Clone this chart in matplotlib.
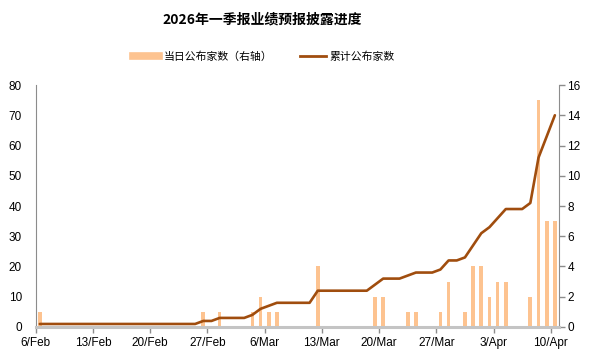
import numpy as np
import pandas as pd
import matplotlib
matplotlib.use("Agg")
import matplotlib.pyplot as plt
from matplotlib.lines import Line2D

plt.rcParams['font.family'] = ['Liberation Sans', 'Noto Sans CJK SC', 'DejaVu Sans']

# data: daily number of companies publishing Q1 earnings previews
title = "2026年一季报业绩预报披露进度"
bar_label = "当日公布家数（右轴）"
line_label = "累计公布家数"
start, end = "2026-02-06", "2026-04-10"
report_dates = ["2026-02-06", "2026-02-26", "2026-02-28", "2026-03-04", "2026-03-05",
                "2026-03-06", "2026-03-07", "2026-03-12", "2026-03-19", "2026-03-20",
                "2026-03-23", "2026-03-24", "2026-03-27", "2026-03-28", "2026-03-30",
                "2026-03-31", "2026-04-01", "2026-04-02", "2026-04-03", "2026-04-04",
                "2026-04-07", "2026-04-08", "2026-04-09", "2026-04-10"]
report_counts = [1, 1, 1, 1, 2, 1, 1, 4, 2, 2, 1, 1, 1, 3, 1, 4, 4, 2, 3, 3, 2, 15, 7, 7]
tick_labels = ["6/Feb", "13/Feb", "20/Feb", "27/Feb", "6/Mar", "13/Mar",
               "20/Mar", "27/Mar", "3/Apr", "10/Apr"]

days = pd.date_range(start, end, freq="D")
daily = pd.Series(0, index=days)
daily[pd.to_datetime(report_dates)] = report_counts
cumulative = daily.cumsum()

bar_color = "#FDC390"
line_color = "#A04D0E"

fig = plt.figure(figsize=(5.94, 3.61), dpi=100)
ax = fig.add_axes([0.0601, 0.0942, 0.8809, 0.6703])
ax2 = ax.twinx()
ax.set_zorder(ax2.get_zorder() + 1)
ax.patch.set_visible(False)

x = np.arange(len(days)) + 0.5
ax2.bar(x, daily.values, width=0.45, color=bar_color, linewidth=0)
ax.plot(x, cumulative.values, color=line_color, linewidth=1.9, solid_capstyle="round")

ax.set_xlim(0, len(days))
ax.set_ylim(0, 80)
ax2.set_ylim(0, 16)
ax.set_yticks(range(0, 81, 10))
ax2.set_yticks(range(0, 17, 2))
ax.set_xticks(range(0, len(days), 7))
ax.set_xticklabels(tick_labels)

for a in (ax, ax2):
    a.spines["top"].set_visible(False)
    a.spines["left"].set_color("#8C8C8C")
    a.spines["right"].set_color("#8C8C8C")
    a.spines["bottom"].set_color("#C4C4C4")
    a.spines["bottom"].set_linewidth(2.2)
ax2.spines["bottom"].set_visible(False)
ax.spines["right"].set_visible(False)
ax2.spines["left"].set_visible(False)

ax.tick_params(axis="y", length=0, labelsize=8.5, pad=10, colors="#8C8C8C", labelcolor="black")
ax.tick_params(axis="x", length=4, width=1, labelsize=8.5, colors="#8C8C8C", labelcolor="black", pad=3)
ax2.tick_params(axis="y", length=4, width=1, labelsize=8.5, colors="#8C8C8C", labelcolor="black", pad=2)

fig.text(0.441, 0.947, title, ha="center", va="center", fontsize=10, fontweight="bold",
         family=["Noto Sans CJK SC", "DejaVu Sans"])

handles = [Line2D([0], [0], color=bar_color, linewidth=5.5),
           Line2D([0], [0], color=line_color, linewidth=2)]
fig.legend(handles, [bar_label, line_label], loc="center", bbox_to_anchor=(0.445, 0.843),
           ncol=2, frameon=False, handlelength=2.4, handletextpad=0.4, columnspacing=2.5,
           prop={"family": ["Noto Sans CJK SC", "DejaVu Sans"], "size": 7.8})

fig.savefig("out.png", dpi=100)
